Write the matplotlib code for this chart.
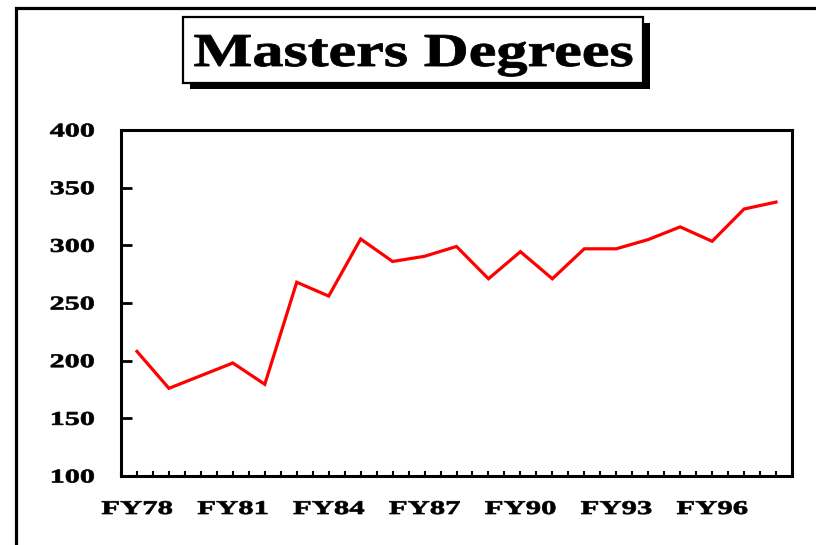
import matplotlib
matplotlib.use("Agg")
import matplotlib.pyplot as plt
from matplotlib.patheffects import AbstractPathEffect
from matplotlib.transforms import Affine2D
from matplotlib.lines import Line2D
from matplotlib.patches import Rectangle
import numpy as np

# ---- data ----
years = ["FY78", "FY79", "FY80", "FY81", "FY82", "FY83", "FY84", "FY85", "FY86",
         "FY87", "FY88", "FY89", "FY90", "FY91", "FY92", "FY93", "FY94", "FY95",
         "FY96", "FY97", "FY98"]
degrees = [208, 176, 187, 198, 179.5, 268, 256, 305.5, 286, 290.5, 299, 271,
           294.5, 271, 297, 297, 305, 316, 303.5, 331.5, 337.5]
label_years = ["FY78", "FY81", "FY84", "FY87", "FY90", "FY93", "FY96"]
y_ticks = [100, 150, 200, 250, 300, 350, 400]
title = "Masters Degrees"


class HStretch(AbstractPathEffect):
    """Stretch rendered text horizontally around an anchor, with optional stroke."""
    def __init__(self, sx, anchor="center", stroke=0.0):
        super().__init__()
        self.sx = sx
        self.anchor = anchor
        self.stroke = stroke

    def draw_path(self, renderer, gc, tpath, affine, rgbFace=None):
        v = tpath.vertices
        if len(v):
            pts = affine.transform(v)
            x0, x1 = pts[:, 0].min(), pts[:, 0].max()
            cx = {"center": (x0 + x1) / 2, "right": x1, "left": x0}[self.anchor]
            affine = affine + Affine2D().translate(-cx, 0).scale(self.sx, 1).translate(cx, 0)
        gc0 = renderer.new_gc()
        gc0.copy_properties(gc)
        if self.stroke > 0 and rgbFace is not None:
            gc0.set_linewidth(self.stroke)
            gc0.set_foreground(rgbFace)
        renderer.draw_path(gc0, tpath, affine, rgbFace)
        gc0.restore()


W, H = 816, 545
fig = plt.figure(figsize=(W / 100, H / 100), dpi=100)
fig.patch.set_facecolor("white")

def fx(x):
    return x / W

def fy(y):
    return 1 - y / H

# outer frame (left + top edges)
fig.add_artist(Line2D([fx(16), fx(16), fx(820)], [fy(550), fy(7.5), fy(7.5)],
                      transform=fig.transFigure, color="black", lw=2.3,
                      solid_joinstyle="miter"))

# title box with shadow
bx0, by0, bx1, by1 = 183, 17, 643, 83
fig.add_artist(Rectangle((fx(bx0 + 7), fy(by1 + 6)), fx(bx1 - bx0), (by1 - by0) / H,
                         transform=fig.transFigure, facecolor="black",
                         edgecolor="black", lw=0))
fig.add_artist(Rectangle((fx(bx0), fy(by1)), fx(bx1 - bx0), (by1 - by0) / H,
                         transform=fig.transFigure, facecolor="white",
                         edgecolor="black", lw=1.6))
fig.text(fx((bx0 + bx1) / 2 + 0.5), fy(66), title, ha="center", va="baseline",
         fontsize=34, fontweight="bold", family="Liberation Serif",
         path_effects=[HStretch(1.32, "center", 0.6)])

# axes
L, R, T, B = 121, 792, 130, 476
ax = fig.add_axes([fx(L), fy(B), fx(R - L), (B - T) / H])
x = np.arange(len(years))
ax.plot(x, degrees, color="#ff0000", lw=2.3, solid_joinstyle="miter")
ax.set_xlim(-0.5, len(years) - 0.5)
ax.set_ylim(100, 400)

for s in ax.spines.values():
    s.set_linewidth(2.2)

ax.set_yticks(y_ticks)
ax.set_yticklabels([str(v) for v in y_ticks])
ax.tick_params(axis="y", direction="in", length=8, width=2.0, pad=19,
               labelsize=14)

label_pos = [years.index(l) for l in label_years]
ax.set_xticks(label_pos)
ax.set_xticklabels(label_years)
ax.set_xticks([p for p in np.arange(-0.5, len(years), 0.5) if p not in label_pos],
              minor=True)
ax.tick_params(axis="x", which="both", direction="in", length=3.8, width=1.5,
               pad=18, labelsize=14)

for lab in ax.get_yticklabels():
    lab.set_fontfamily("Liberation Serif")
    lab.set_fontweight("bold")
    lab.set_path_effects([HStretch(1.55, "right", 0.5)])
for lab in ax.get_xticklabels():
    lab.set_fontfamily("Liberation Serif")
    lab.set_fontweight("bold")
    lab.set_path_effects([HStretch(1.58, "center", 0.5)])

fig.savefig("out.png", dpi=100, facecolor="white")
